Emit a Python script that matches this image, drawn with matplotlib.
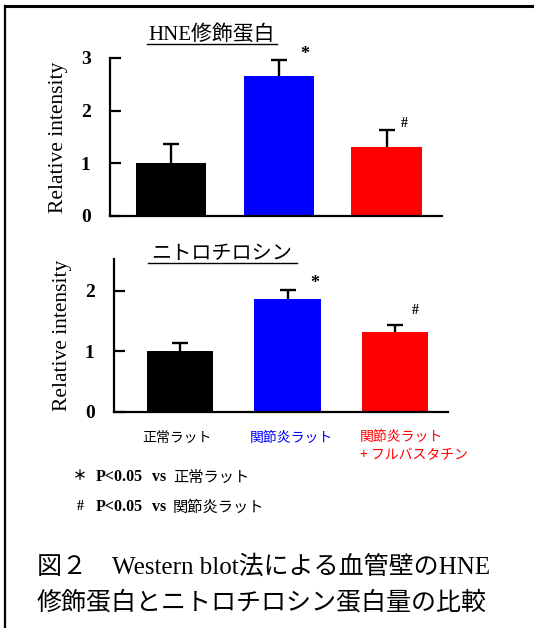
import matplotlib
matplotlib.use("Agg")
import matplotlib.pyplot as plt
from matplotlib.lines import Line2D

plt.rcParams['font.family'] = ['Liberation Serif', 'Noto Sans CJK JP', 'DejaVu Sans']
JP = ['Noto Sans CJK JP', 'DejaVu Sans']
MIX = ['Liberation Serif', 'Noto Sans CJK JP', 'DejaVu Sans']

categories = ['正常ラット', '関節炎ラット', '関節炎ラット\n+ フルバスタチン']
colors = ['#000000', '#0000ff', '#ff0000']

hne_title = 'HNE修飾蛋白'
hne_values = [1.00, 2.66, 1.31]
hne_err = [0.37, 0.30, 0.32]
hne_marks = ['', '*', '#']
hne_ticks = [0, 1, 2, 3]

nt_title = 'ニトロチロシン'
nt_values = [1.00, 1.86, 1.32]
nt_err = [0.14, 0.15, 0.11]
nt_marks = ['', '*', '#']
nt_ticks = [0, 1, 2]

ylabel = 'Relative intensity'
notes = [('＊', 'P<0.05', 'vs', '正常ラット'), ('#', 'P<0.05', 'vs', '関節炎ラット')]
caption1 = '図２　Western blot法による血管壁のHNE'
caption2 = '修飾蛋白とニトロチロシン蛋白量の比較'

W, H = 534, 628
fig = plt.figure(figsize=(W / 100, H / 100), dpi=100)


def fx(px):
    return px / W


def fy(py):
    return 1 - py / H


def panel(rect, values, errs, marks, ticks, ylim, xlim, width, mark_offsets):
    ax = fig.add_axes(rect)
    x = list(range(len(values)))
    tops = [v + e for v, e in zip(values, errs)]
    ax.bar(x, values, width=width, color=colors, zorder=2)
    ax.vlines(x, values, tops, colors='black', linewidth=1.7, zorder=1)
    ax.plot(x, tops, linestyle='none', marker='_', markersize=12,
            markeredgewidth=1.7, color='black', zorder=1)
    for i, (m, off) in enumerate(zip(marks, mark_offsets)):
        if m:
            ax.annotate(m, (x[i], tops[i]), xytext=off,
                        textcoords='offset pixels', ha='center', va='center',
                        fontsize=13 if m == '*' else 10, fontweight='bold',
                        family=['Liberation Serif'])
    ax.set_xlim(*xlim)
    ax.set_ylim(*ylim)
    ax.set_yticks(ticks)
    ax.set_yticklabels([str(t) for t in ticks], fontsize=14, fontweight='bold')
    ax.set_xticks([])
    for s in ['top', 'right']:
        ax.spines[s].set_visible(False)
    ax.spines['left'].set_linewidth(1.6)
    ax.spines['bottom'].set_linewidth(1.6)
    ax.tick_params(axis='y', direction='in', length=8, width=1.6, pad=14)
    ax.set_ylabel(ylabel, fontsize=15.5, labelpad=9)
    ax.patch.set_alpha(0)
    return ax


ax1 = panel([fx(110), fy(216), fx(332), (216 - 58) / H], hne_values, hne_err,
            hne_marks, hne_ticks, (0, 3), (-0.566, 2.515), 0.65,
            [None, (26, 6), (18, 7)])
ax2 = panel([fx(114), fy(411.7), fx(334), (411.7 - 259) / H], nt_values, nt_err,
            nt_marks, nt_ticks, (0, 2.52), (-0.614, 2.493), 0.62,
            [None, (27, 6), (20, 15)])

# panel titles with underline
fig.text(fx(212), fy(35), hne_title, ha='center', va='center', fontsize=15, family=MIX)
fig.add_artist(Line2D([fx(147), fx(277)], [fy(44), fy(44)], color='black', lw=1.0))
fig.text(fx(222), fy(253), nt_title, ha='center', va='center', fontsize=14.5, family=JP)
fig.add_artist(Line2D([fx(148), fx(297)], [fy(263), fy(263)], color='black', lw=1.0))

# category labels
fig.text(fx(177), fy(438), categories[0], ha='center', va='center', fontsize=10,
         family=JP, color=colors[0])
fig.text(fx(291), fy(438), categories[1], ha='center', va='center', fontsize=10,
         family=JP, color=colors[1])
fig.text(fx(360), fy(446), categories[2], ha='left', va='center', fontsize=10,
         family=JP, color=colors[2], linespacing=1.3)

# significance notes
for (sym, p, vs, grp), y in zip(notes, [477, 507]):
    fig.text(fx(80), fy(y), sym, ha='center', va='center', fontsize=10,
             fontweight='bold', family=MIX)
    fig.text(fx(96), fy(y), p, ha='left', va='center', fontsize=11.5,
             fontweight='bold', family=['Liberation Serif'])
    fig.text(fx(152), fy(y), vs, ha='left', va='center', fontsize=11.5,
             fontweight='bold', family=['Liberation Serif'])
    fig.text(fx(173), fy(y), grp, ha='left', va='center', fontsize=11, family=JP)

# caption
fig.text(fx(37), fy(567), caption1, ha='left', va='center', fontsize=18, family=MIX)
fig.text(fx(37), fy(603), caption2, ha='left', va='center', fontsize=18, family=JP)

# frame lines (top and left)
fig.add_artist(Line2D([fx(5), fx(534)], [fy(6), fy(6)], color='black', lw=2.2))
fig.add_artist(Line2D([fx(5), fx(5)], [fy(6), fy(628)], color='black', lw=1.6))

fig.savefig('out.png', dpi=100)
